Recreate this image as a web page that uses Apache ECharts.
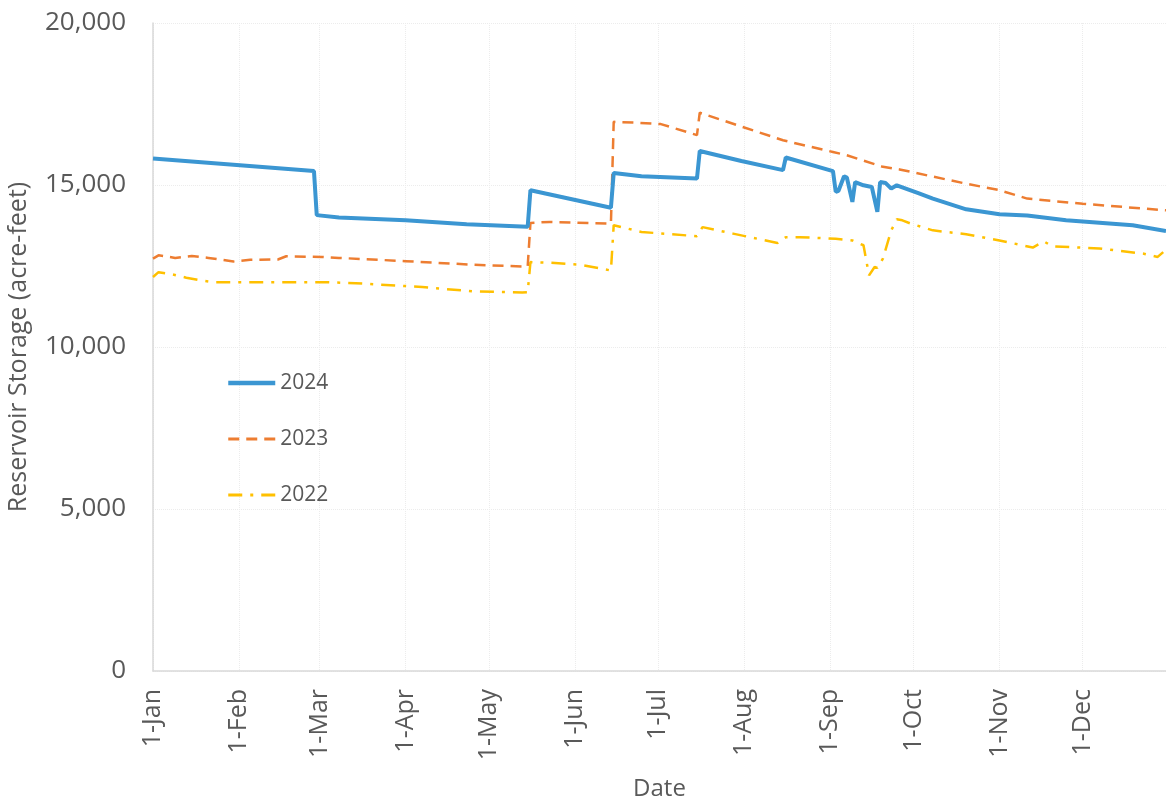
<!DOCTYPE html>
<html>
<head>
<meta charset="utf-8">
<title>Reservoir Storage</title>
<script src="https://cdn.jsdelivr.net/npm/echarts@6/dist/echarts.min.js"></script>
<style>
  html, body { margin: 0; padding: 0; background: #fff; }
  #chart { width: 1166px; height: 798px; }
</style>
</head>
<body>
<div id="chart"></div>
<script>
// x axis: one category per day of a leap year, labelled like "1-Jan"
const monthNames = ['Jan', 'Feb', 'Mar', 'Apr', 'May', 'Jun', 'Jul', 'Aug', 'Sep', 'Oct', 'Nov', 'Dec']
const monthLengths = [31, 29, 31, 30, 31, 30, 31, 31, 30, 31, 30, 31]

// day of year (0 = 1-Jan) and storage in acre-feet
const days2024 = [0, 58, 59, 67, 91, 113, 135, 136, 165, 166, 176, 196, 197, 212, 227, 228, 245, 246, 247, 249, 250, 252, 253, 256, 259, 261, 262, 264, 266, 268, 276, 281, 293, 305, 315, 329, 353, 365]
const storage2024 = [15820, 15430, 14070, 14000, 13910, 13790, 13710, 14840, 14300, 15370, 15270, 15200, 16050, 15740, 15460, 15850, 15430, 14790, 14820, 15270, 15230, 14480, 15090, 14990, 14940, 14170, 15090, 15060, 14890, 14990, 14740, 14580, 14250, 14100, 14060, 13910, 13760, 13580]

const days2023 = [0, 2, 8, 14, 20, 29, 35, 45, 48, 61, 67, 91, 115, 135, 136, 143, 165, 166, 175, 183, 196, 197, 227, 233, 245, 250, 263, 269, 287, 293, 305, 315, 335, 365]
const storage2023 = [12730, 12830, 12750, 12810, 12750, 12640, 12690, 12700, 12800, 12780, 12750, 12650, 12540, 12480, 13830, 13860, 13810, 16950, 16920, 16880, 16540, 17230, 16380, 16260, 16020, 15920, 15560, 15480, 15150, 15040, 14840, 14580, 14420, 14220]

const days2022 = [0, 2, 7, 12, 17, 22, 63, 73, 97, 115, 133, 135, 136, 143, 154, 165, 166, 176, 196, 198, 209, 225, 228, 233, 246, 252, 256, 258, 260, 261, 263, 266, 268, 270, 273, 281, 293, 305, 317, 321, 324, 341, 357, 362, 364]
const storage2022 = [12160, 12310, 12240, 12140, 12060, 12000, 12000, 11970, 11850, 11720, 11680, 11690, 12620, 12600, 12540, 12360, 13760, 13550, 13420, 13700, 13500, 13210, 13390, 13390, 13340, 13290, 13140, 12210, 12470, 12440, 12730, 13600, 13940, 13910, 13810, 13600, 13480, 13290, 13070, 13260, 13110, 13040, 12880, 12780, 12930]

const yTicks = { min: 0, max: 20000, interval: 5000 }

const dayLabels = []
monthNames.forEach((m, i) => {
  for (let d = 1; d <= monthLengths[i]; d++) dayLabels.push(d + '-' + m)
})

const pairs = (days, values) => days.map((d, i) => [d, values[i]])
const isMonthStart = (index, value) => value.startsWith('1-')

const font = '"Open Sans", "Liberation Sans", sans-serif'
const textColor = '#595959'
const colors = { y2024: '#3b96d2', y2023: '#ed7d31', y2022: '#ffc000' }

const chart = echarts.init(document.getElementById('chart'))

chart.setOption({
  animation: false,
  textStyle: { fontFamily: font },
  grid: {
    left: 153,
    right: 0,
    top: 23,
    bottom: 127,
    containLabel: false,
    outerBoundsMode: 'none'
  },
  legend: {
    orient: 'vertical',
    left: 221,
    top: 366,
    itemWidth: 47,
    itemHeight: 24,
    itemGap: 32,
    data: [
      { name: '2024', lineStyle: { width: 4.5 } },
      { name: '2023', lineStyle: { width: 3 } },
      { name: '2022', lineStyle: { width: 3 } }
    ],
    itemStyle: { opacity: 0 },
    textStyle: { fontSize: 21, color: textColor, lineHeight: 24 }
  },
  xAxis: {
    type: 'category',
    data: dayLabels,
    boundaryGap: false,
    name: 'Date',
    nameLocation: 'middle',
    nameGap: 106,
    nameTextStyle: { fontSize: 24, color: textColor },
    axisLine: { lineStyle: { color: '#d9d9d9', width: 1.5 } },
    axisTick: { show: false },
    axisLabel: {
      interval: isMonthStart,
      rotate: 90,
      margin: 18,
      fontSize: 25,
      color: textColor
    },
    splitLine: {
      show: true,
      interval: isMonthStart,
      lineStyle: { color: '#ececec', type: 'dotted', width: 1 }
    }
  },
  yAxis: {
    type: 'value',
    min: yTicks.min,
    max: yTicks.max,
    interval: yTicks.interval,
    name: 'Reservoir Storage (acre-feet)',
    nameLocation: 'middle',
    nameRotate: 90,
    nameGap: 122,
    nameTextStyle: { fontSize: 25, color: textColor },
    axisLine: { show: true, lineStyle: { color: '#d9d9d9', width: 1.5 } },
    axisTick: { show: false },
    axisLabel: { fontSize: 26, color: textColor, margin: 27 },
    splitLine: { lineStyle: { color: '#ececec', type: 'dotted', width: 1 } }
  },
  series: [
    {
      name: '2024',
      type: 'line',
      symbol: 'none',
      z: 3,
      data: pairs(days2024, storage2024),
      lineStyle: { color: colors.y2024, width: 4 },
      itemStyle: { color: colors.y2024 }
    },
    {
      name: '2023',
      type: 'line',
      symbol: 'none',
      z: 2,
      data: pairs(days2023, storage2023),
      lineStyle: { color: colors.y2023, width: 2.5, type: [11, 7] },
      itemStyle: { color: colors.y2023 }
    },
    {
      name: '2022',
      type: 'line',
      symbol: 'none',
      z: 1,
      data: pairs(days2022, storage2022),
      lineStyle: { color: colors.y2022, width: 2.5, type: [14, 8, 3, 8] },
      itemStyle: { color: colors.y2022 }
    }
  ]
})

window.addEventListener('resize', () => chart.resize())
</script>
</body>
</html>
